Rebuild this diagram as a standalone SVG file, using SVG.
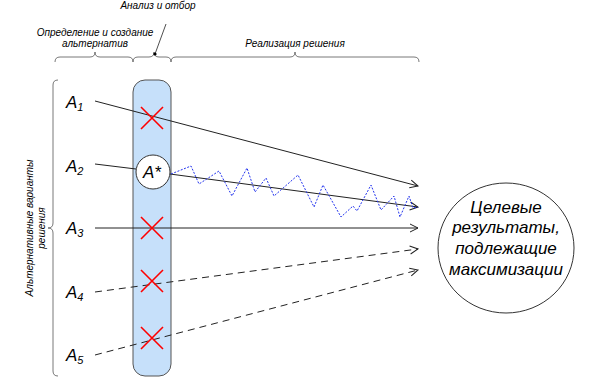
<svg xmlns="http://www.w3.org/2000/svg" width="602" height="383" viewBox="0 0 602 383">
<defs>
<style>
.t{font-family:"Liberation Sans",Arial,sans-serif;font-style:italic;fill:#000}
.sm{font-size:10px}
.big{font-size:17px}
.lbl{font-size:17px}
.sub{font-size:11px}
.br{fill:none;stroke:#555;stroke-width:0.8}
.con{fill:none;stroke:#222;stroke-width:1}
.dash{stroke-dasharray:7,5}
.x{stroke:#ff0000;stroke-width:1.6}
</style>
<marker id="ah" viewBox="0 0 10 10" refX="9" refY="5" markerWidth="10" markerHeight="10" markerUnits="userSpaceOnUse" orient="auto">
<path d="M1,1 L9,5 L1,9" fill="none" stroke="#222" stroke-width="1"/>
</marker>
</defs>
<rect width="602" height="383" fill="#fff"/>

<g id="top-labels">
<path class="br" d="M55,62 Q55,57 60,57 L90,57 Q95,57 95,52 Q95,57 100,57 L128,57 Q133,57 133,62"/>
<path class="br" d="M133,62 Q133,57 138,57 L149,57 Q154,57 154,52 Q154,57 159,57 L166,57 Q171,57 171,62"/>
<path class="br" d="M171,62 Q171,57 176,57 L290,57 Q295,57 295,52 Q295,57 300,57 L414,57 Q419,57 419,62"/>
<text class="t sm" x="95" y="36" text-anchor="middle">Определение и создание</text>
<text class="t sm" x="95" y="47" text-anchor="middle">альтернатив</text>
<text class="t sm" x="158" y="9" text-anchor="middle">Анализ и отбор</text>
<line x1="166" y1="24" x2="155" y2="54" stroke="#222" stroke-width="0.8"/>
<circle cx="155" cy="54" r="1.6" fill="#000"/>
<text class="t sm" x="295" y="47" text-anchor="middle">Реализация решения</text>
</g>

<g id="left-brace">
<path class="br" d="M58,80 Q53,80 53,85 L53,223 Q53,228 48,228 Q53,228 53,233 L53,371 Q53,376 58,376"/>
<text class="t sm" transform="translate(33,228) rotate(-90)" text-anchor="middle">Альтернативные варианты</text>
<text class="t sm" transform="translate(45,228) rotate(-90)" text-anchor="middle">решения</text>
</g>

<g id="selector">
<rect x="133" y="80" width="38" height="296" rx="12" ry="12" fill="#c6e0fa" stroke="#555" stroke-width="1"/>
</g>

<g id="labels">
<text class="t lbl" x="66" y="108">A<tspan class="sub" dy="3">1</tspan></text>
<text class="t lbl" x="66" y="172">A<tspan class="sub" dy="3">2</tspan></text>
<text class="t lbl" x="66" y="234">A<tspan class="sub" dy="3">3</tspan></text>
<text class="t lbl" x="66" y="298">A<tspan class="sub" dy="3">4</tspan></text>
<text class="t lbl" x="66" y="361">A<tspan class="sub" dy="3">5</tspan></text>
</g>

<g id="connectors">
<line class="con" x1="95" y1="101" x2="418" y2="186" marker-end="url(#ah)"/>
<line class="con" x1="95" y1="164" x2="136" y2="169"/>
<line class="con" x1="170" y1="174" x2="418" y2="207" marker-end="url(#ah)"/>
<line class="con" x1="95" y1="228" x2="418" y2="228" marker-end="url(#ah)"/>
<line class="con dash" x1="95" y1="292" x2="418" y2="249" marker-end="url(#ah)"/>
<line class="con dash" x1="95" y1="355" x2="418" y2="270" marker-end="url(#ah)"/>
<polyline fill="none" stroke="#2233ee" stroke-width="1" stroke-dasharray="2,1.5" points="171,174 191,166 199,184 219,171 232,196 247,168 255,192 266,178 274,196 298,175 314,207 323,185 341,217 353,206 357,211 371,185 381,210 394,196 400,217 409,196 413,208 418,207"/>
</g>

<g id="crosses">
<path class="x" d="M141,107 L163,129 M163,107 L141,129"/>
<path class="x" d="M141,217 L163,239 M163,217 L141,239"/>
<path class="x" d="M141,270 L163,292 M163,270 L141,292"/>
<path class="x" d="M141,327 L163,349 M163,327 L141,349"/>
</g>

<g id="a-star">
<circle cx="153" cy="172" r="17" fill="#fff" stroke="#333" stroke-width="1"/>
<text class="t lbl" x="152" y="178" text-anchor="middle">A*</text>
</g>

<g id="target">
<ellipse cx="506" cy="248" rx="68" ry="65" fill="#fff" stroke="#333" stroke-width="1"/>
<text class="t big" x="506" y="213" text-anchor="middle">Целевые</text>
<text class="t big" x="506" y="233" text-anchor="middle">результаты,</text>
<text class="t big" x="506" y="254" text-anchor="middle">подлежащие</text>
<text class="t big" x="506" y="275" text-anchor="middle">максимизации</text>
</g>
</svg>
